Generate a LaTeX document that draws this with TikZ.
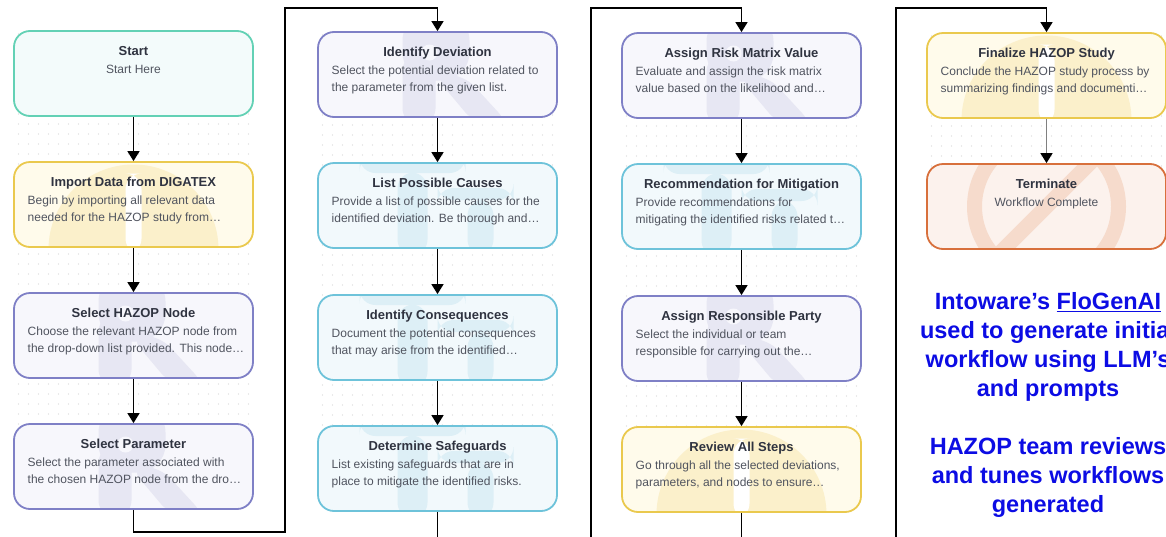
\documentclass[tikz,border=0pt]{standalone}
\usepackage{fontspec}
\setmainfont{Liberation Sans}
\usetikzlibrary{arrows.meta}
\definecolor{tealB}{HTML}{63D1B5}\definecolor{tealF}{HTML}{F3FBFB}
\definecolor{yelB}{HTML}{EAC94E}\definecolor{yelF}{HTML}{FFFBEB}\definecolor{yelI}{HTML}{FBF0CB}
\definecolor{purB}{HTML}{7F80C6}\definecolor{purF}{HTML}{F7F7FC}\definecolor{purI}{HTML}{E7E7F3}
\definecolor{cyaB}{HTML}{6EC3DA}\definecolor{cyaF}{HTML}{F2F9FC}\definecolor{cyaI}{HTML}{DDEFF6}
\definecolor{orgB}{HTML}{D8703C}\definecolor{orgF}{HTML}{FCF2ED}\definecolor{orgI}{HTML}{F6DBCC}
\definecolor{ttlC}{HTML}{2F3340}\definecolor{dscC}{HTML}{50545F}
\definecolor{dotC}{HTML}{D6D6D6}\definecolor{noteC}{RGB}{12,12,228}
\newcommand{\flowbox}[7]{%
  \node[#4] (#1) at (#2,#3+42.5) {};
  \node[ttl, anchor=base] (#1-t) at (#2,#3+24.5) {#5};
  \node[dsc, anchor=base west] (#1-a) at (#2-106,#3+42) {#6};
  \node[dsc, anchor=base west] (#1-b) at (#2-106,#3+59) {#7};
}
\begin{document}
\begin{tikzpicture}[x=1pt,y=-1pt,
  box/.style={draw, rounded corners=16pt, minimum width=239pt, minimum height=85pt, inner sep=0pt, line width=1.8pt},
  tealbox/.style={box, draw=tealB, fill=tealF},
  yelbox/.style={box, draw=yelB, fill=yelF, path picture={
     \begin{scope}[shift={(path picture bounding box.center)}]
       \fill[yelI] (0,45) circle (85pt);
       \fill[white] (-8,-31) rectangle (8,50);
     \end{scope}}},
  purbox/.style={box, draw=purB, fill=purF, path picture={
     \begin{scope}[shift={(path picture bounding box.center)}]
       \fill[purI, rounded corners=28pt] (-35,-62) rectangle (32,6);
       \fill[purI] (-35,-20) rectangle (-2,50);
       \fill[purI] (-4,0) -- (26,0) -- (72,50) -- (38,50) -- cycle;
       \fill[purF] (-8,-22) circle (8pt);
     \end{scope}}},
  cyabox/.style={box, draw=cyaB, fill=cyaF, path picture={
     \begin{scope}[shift={(path picture bounding box.center)}]
       \fill[cyaI] (-78,-50) rectangle (28,-32.5);
       \fill[cyaI] (-40,-33) rectangle (-10,50);
       \fill[cyaI] (0,-17.5) rectangle (76,-5.5);
       \fill[cyaI] (30,-6) rectangle (56,50);
     \end{scope}}},
  orgbox/.style={box, draw=orgB, fill=orgF, path picture={
     \begin{scope}[shift={(path picture bounding box.center)}]
       \draw[orgI, line width=15pt] (0,0) circle (72pt);
       \draw[orgI, line width=15pt] (51,-51) -- (-51,51);
     \end{scope}}},
  ttl/.style={inner sep=0pt, font=\fontsize{13}{15}\selectfont\bfseries, text=ttlC},
  dsc/.style={inner sep=0pt, font=\fontsize{12}{14}\selectfont, text=dscC},
  conn/.style={draw=black, line width=1.4pt, -{Triangle[length=10pt,width=12pt]}},
  dotgrid/.style={draw=dotC, line width=1.3pt, line cap=round, dash pattern=on 0pt off 10pt},
  note/.style={align=center, text=noteC, inner sep=0pt, font=\fontsize{23.5}{29}\selectfont\bfseries}
]
\useasboundingbox (0,0) rectangle (1166,536);
\clip (0,0) rectangle (1166,536);
\fill[white] (0,0) rectangle (1166,536);

% dot grids
\foreach \cx/\ya/\yb in {133.5/34/508, 437.5/35/510, 741.5/36/511, 1046.5/36/250}{
  \foreach \i in {0,...,23}{
    \draw[dotgrid] (\cx-115+\i*10,\ya) -- (\cx-115+\i*10,\yb);
  }
}

% column 1
\node[tealbox] (start) at (133.5,73.5) {};
\node[ttl, anchor=base] (start-t) at (133.5,55.5) {Start};
\node[dsc, anchor=base] (start-a) at (133.5,73) {Start Here};
\flowbox{imp}{133.5}{162}{yelbox}{Import Data from DIGATEX}{Begin by importing all relevant data}{needed for the HAZOP study from…}
\flowbox{hnode}{133.5}{293}{purbox}{Select HAZOP Node}{Choose the relevant HAZOP node from}{the drop-down list provided. This node…}
\flowbox{par}{133.5}{424}{purbox}{Select Parameter}{Select the parameter associated with}{the chosen HAZOP node from the dro…}

% column 2
\flowbox{dev}{437.5}{32}{purbox}{Identify Deviation}{Select the potential deviation related to}{the parameter from the given list.}
\flowbox{cause}{437.5}{163}{cyabox}{List Possible Causes}{Provide a list of possible causes for the}{identified deviation. Be thorough and…}
\flowbox{cons}{437.5}{295}{cyabox}{Identify Consequences}{Document the potential consequences}{that may arise from the identified…}
\flowbox{safe}{437.5}{426}{cyabox}{Determine Safeguards}{List existing safeguards that are in}{place to mitigate the identified risks.}

% column 3
\flowbox{risk}{741.5}{33}{purbox}{Assign Risk Matrix Value}{Evaluate and assign the risk matrix}{value based on the likelihood and…}
\flowbox{rec}{741.5}{164}{cyabox}{Recommendation for Mitigation}{Provide recommendations for}{mitigating the identified risks related t…}
\flowbox{resp}{741.5}{296}{purbox}{Assign Responsible Party}{Select the individual or team}{responsible for carrying out the…}
\flowbox{rev}{741.5}{427}{yelbox}{Review All Steps}{Go through all the selected deviations,}{parameters, and nodes to ensure…}

% column 4
\flowbox{fin}{1046.5}{33}{yelbox}{Finalize HAZOP Study}{Conclude the HAZOP study process by}{summarizing findings and documenti…}
\node[orgbox] (term) at (1046.5,206.5) {};
\node[ttl, anchor=base] (term-t) at (1046.5,188.5) {Terminate};
\node[dsc, anchor=base] (term-a) at (1046.5,206) {Workflow Complete};

% connectors
\draw[conn] (start.south) -- (imp.north);
\draw[conn] (imp.south) -- (hnode.north);
\draw[conn] (hnode.south) -- (par.north);
\draw[conn] (dev.south) -- (cause.north);
\draw[conn] (cause.south) -- (cons.north);
\draw[conn] (cons.south) -- (safe.north);
\draw[conn] (risk.south) -- (rec.north);
\draw[conn] (rec.south) -- (resp.north);
\draw[conn] (resp.south) -- (rev.north);
\draw[conn, draw=black!50, -{Triangle[length=10pt,width=12pt,color=black]}] (fin.south) -- (term.north);

\coordinate (c1b) at (285,532);
\coordinate (c1t) at (285,8);
\coordinate (c2b) at (591,570);
\coordinate (c2t) at (591,8);
\coordinate (c3b) at (896,570);
\coordinate (c3t) at (896,8);
\draw[conn] (par.south) |- (c1b) -- (c1t) -| (dev.north);
\draw[conn] (safe.south) |- (c2b) -- (c2t) -| (risk.north);
\draw[conn] (rev.south) |- (c3b) -- (c3t) -| (fin.north);

% notes
\node[note] (note1) at (1048,347) {Intoware’s \underline{FloGenAI}\\used to generate initial\\workflow using LLM’s\\and prompts};
\node[note] (note2) at (1048,477) {HAZOP team reviews\\and tunes workflows\\generated};
\end{tikzpicture}
\end{document}
